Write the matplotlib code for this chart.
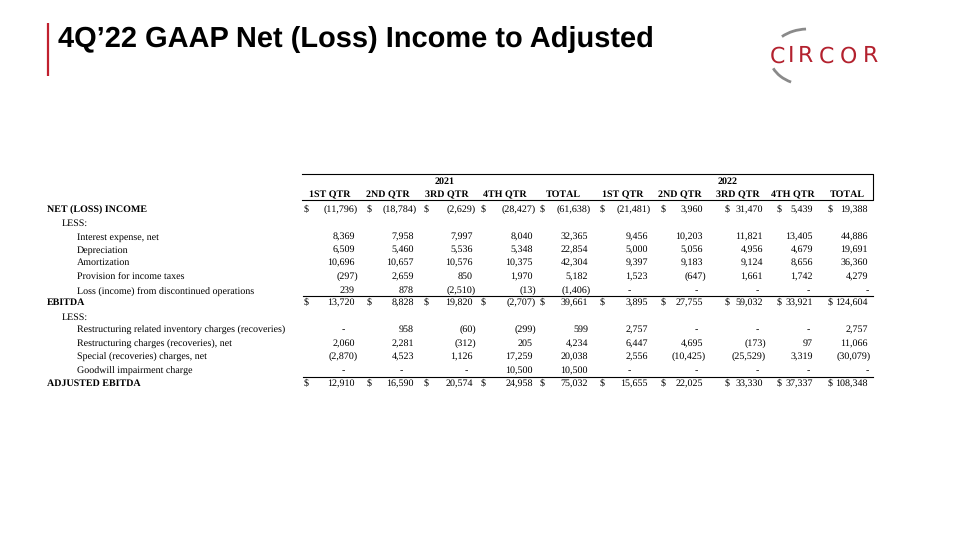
import matplotlib
matplotlib.use('Agg')
import matplotlib.pyplot as plt
from matplotlib.patches import Arc

plt.rcParams['text.hinting'] = 'no_hinting'
plt.rcParams['text.hinting_factor'] = 1

# table data (in thousands), None = dash, LESS rows carry no values
years = ['2021', '2022']
quarters = ['1ST QTR', '2ND QTR', '3RD QTR', '4TH QTR', 'TOTAL']

row_labels = ['NET (LOSS) INCOME', 'LESS:', 'Interest expense, net', 'Depreciation',
              'Amortization', 'Provision for income taxes',
              'Loss (income) from discontinued operations', 'EBITDA', 'LESS:',
              'Restructuring related inventory charges (recoveries)',
              'Restructuring charges (recoveries), net', 'Special (recoveries) charges, net',
              'Goodwill impairment charge', 'ADJUSTED EBITDA']
row_level = [0, 1, 2, 2, 2, 2, 2, 0, 1, 2, 2, 2, 2, 0]

vals_2021 = [
    [-11796, -18784, -2629, -28427, -61638],
    None,
    [8369, 7958, 7997, 8040, 32365],
    [6509, 5460, 5536, 5348, 22854],
    [10696, 10657, 10576, 10375, 42304],
    [-297, 2659, 850, 1970, 5182],
    [239, 878, -2510, -13, -1406],
    [13720, 8828, 19820, -2707, 39661],
    None,
    [None, 958, -60, -299, 599],
    [2060, 2281, -312, 205, 4234],
    [-2870, 4523, 1126, 17259, 20038],
    [None, None, None, 10500, 10500],
    [12910, 16590, 20574, 24958, 75032],
]
vals_2022 = [
    [-21481, 3960, 31470, 5439, 19388],
    None,
    [9456, 10203, 11821, 13405, 44886],
    [5000, 5056, 4956, 4679, 19691],
    [9397, 9183, 9124, 8656, 36360],
    [1523, -647, 1661, 1742, 4279],
    [None, None, None, None, None],
    [3895, 27755, 59032, 33921, 124604],
    None,
    [2757, None, None, None, 2757],
    [6447, 4695, -173, 97, 11066],
    [2556, -10425, -25529, 3319, -30079],
    [None, None, None, None, None],
    [15655, 22025, 33330, 37337, 108348],
]
dollar_rows = [0, 7, 13]

# layout (pixel coordinates of the 960x540 slide)
row_y = [209, 222, 236, 249, 262, 276, 290, 302, 316, 329, 343, 356, 370, 383]
label_x = [47, 62, 77]
col_right = [355, 414, 473, 533, 588, 648, 703, 763, 813, 868]
col_dollar = [304, 367, 424, 481, 540, 600, 661, 725, 777, 828]
col_dash = [343, 401, 466, 526, 581, 629, 696, 757, 808, 867]
head_x = [330, 388, 447, 505, 563, 623, 680, 738, 793, 847]
year_x = [445, 728]

serif = 'Liberation Serif'
fs = 7.5
base = 3.4  # baseline offset below row centre
red = '#B3212E'


def fmt(v):
    if v is None:
        return '-'
    if v < 0:
        return '(%s)' % format(-v, ',')
    return format(v, ',')


def cell(x, y, s, ha='left', bold=False):
    ax.text(x, y + base, s, fontsize=fs, family=serif, ha=ha, va='baseline',
            fontweight='bold' if bold else 'normal')


fig = plt.figure(figsize=(9.6, 5.4), dpi=100)
ax = fig.add_axes([0, 0, 1, 1])
ax.set_xlim(0, 960)
ax.set_ylim(540, 0)
ax.axis('off')

# title + accent bar
ax.plot([48, 48], [23, 76], color='#C0202E', lw=1.6, solid_capstyle='butt')
ax.text(58, 46.5, '4Q\u201922 GAAP Net (Loss) Income to Adjusted', fontsize=20.7,
        fontweight='bold', family='Liberation Sans', va='baseline', ha='left')

# logo
logo_x = [777, 791, 805, 826, 848, 870]
for ch, x in zip('CIRCOR', logo_x):
    ax.text(x, 62.5, ch, color=red, fontsize=15.5, family='DejaVu Sans',
            ha='center', va='baseline')
ax.add_patch(Arc((808, 57), 76, 56, theta1=-142, theta2=-94, color='#8A8A8A', lw=2))
ax.add_patch(Arc((808, 57), 76, 56, theta1=124, theta2=162, color='#8A8A8A', lw=2))

# header box
ax.plot([302, 873, 873, 302], [174, 174, 200, 200], color='black', lw=0.8)
for y, x in zip(years, year_x):
    cell(x, 181, y, ha='center', bold=True)
for i, x in enumerate(head_x):
    cell(x, 194, quarters[i % 5], ha='center', bold=True)

# rules above subtotal rows
ax.plot([303, 873], [296, 296], color='black', lw=0.8)
ax.plot([303, 873], [377, 377], color='black', lw=0.8)

# rows
for r, label in enumerate(row_labels):
    y = row_y[r]
    cell(label_x[row_level[r]], y, label, bold=row_level[r] == 0)
    if vals_2021[r] is None:
        continue
    row_vals = vals_2021[r] + vals_2022[r]
    for c, v in enumerate(row_vals):
        if r in dollar_rows:
            cell(col_dollar[c], y, '$')
        if v is None:
            cell(col_dash[c], y, '-', ha='center')
        elif v < 0:
            cell(col_right[c] + 3, y, fmt(v), ha='right')
        else:
            cell(col_right[c], y, fmt(v), ha='right')

fig.savefig('out.png', dpi=100)
